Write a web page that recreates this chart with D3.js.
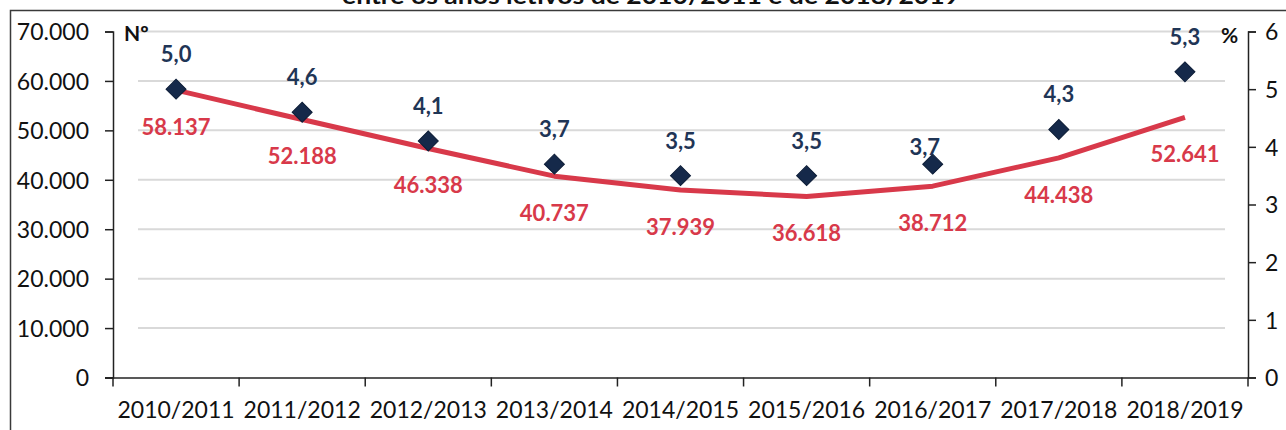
<!DOCTYPE html>
<html><head><meta charset="utf-8">
<script src="https://cdn.jsdelivr.net/npm/d3@7"></script>
<style>body{margin:0;background:#fff}svg{display:block}</style>
</head><body>
<svg id="c" width="1286" height="430"></svg>
<script>
const title = "entre os anos letivos de 2010/2011 e de 2018/2019";
const categories = ["2010/2011","2011/2012","2012/2013","2013/2014","2014/2015","2015/2016","2016/2017","2017/2018","2018/2019"];
const counts = [58137, 52188, 46338, 40737, 37939, 36618, 38712, 44438, 52641];
const percents = [5.0, 4.6, 4.1, 3.7, 3.5, 3.5, 3.7, 4.3, 5.3];
const leftTicks = [0, 10000, 20000, 30000, 40000, 50000, 60000, 70000];
const rightTicks = [0, 1, 2, 3, 4, 5, 6];
const leftUnit = "Nº", rightUnit = "%";

const svg = d3.select("#c");
const FONT = "Lato, 'Open Sans', sans-serif";
const RED = "#d8394a", NAVY = "#15294a";
const x0 = 113, x1 = 1248, yTop = 31.5, yBot = 377.5;

const x = d3.scaleBand().domain(categories).range([x0, x1]);
const yL = d3.scaleLinear().domain([0, 70000]).range([yBot, yTop]);
const yR = d3.scaleLinear().domain([0, 6]).range([yBot, yTop]);
const fmtN = d3.formatLocale({decimal: ",", thousands: ".", grouping: [3], currency: ["", ""]}).format(",d");
const fmtP = v => d3.format(".1f")(v).replace(".", ",");

// frame
svg.append("path").attr("d", "M10.5,430 V10.5 H1286").attr("fill", "none").attr("stroke", "#3a3a3a").attr("stroke-width", 1.5);

// title (clipped at top)
svg.append("text").attr("x", 651).attr("y", 4).attr("text-anchor", "middle")
  .attr("font-family", FONT).attr("font-weight", 700).attr("font-size", 22)
  .attr("textLength", 618).attr("lengthAdjust", "spacingAndGlyphs")
  .attr("fill", "#111").text(title);

// gridlines
svg.append("g").selectAll("line").data(leftTicks.filter(d => d > 0)).join("line")
  .attr("x1", 138).attr("x2", 1225).attr("y1", d => yL(d)).attr("y2", d => yL(d))
  .attr("stroke", "#d9d9d9").attr("stroke-width", 2);

// left axis
const gL = svg.append("g").attr("transform", `translate(${x0},0)`)
  .call(d3.axisLeft(yL).tickValues(leftTicks).tickFormat(d => d === 0 ? "0" : fmtN(d)).tickSize(8).tickPadding(16));
// right axis
const gR = svg.append("g").attr("transform", `translate(${x1},0)`)
  .call(d3.axisRight(yR).tickValues(rightTicks).tickFormat(d3.format("d")).tickSize(8).tickPadding(9));
// x axis
const gX = svg.append("g").attr("transform", `translate(0,${yBot})`)
  .call(d3.axisBottom(x).tickSize(0).tickPadding(24));
gX.append("g").selectAll("line").data(d3.range(categories.length + 1)).join("line")
  .attr("x1", i => x0 + i * x.step()).attr("x2", i => x0 + i * x.step())
  .attr("y1", 0).attr("y2", 9).attr("stroke", "#222").attr("stroke-width", 1.5);
gX.select(".domain").attr("d", `M${x0 - 8},0.5H${x1}`);

[gL, gR, gX].forEach(g => {
  g.selectAll(".domain").attr("stroke", "#222").attr("stroke-width", 1.5);
  g.selectAll(".tick line").attr("stroke", "#222").attr("stroke-width", 1.5);
  g.selectAll("text").attr("font-family", FONT).attr("font-size", 23).attr("fill", "#111");
});
gL.selectAll(".tick text").attr("dy", "0.36em");
gR.selectAll(".tick text").attr("dy", "0.36em");
gX.selectAll(".tick text").attr("dy", "0.71em");

// unit labels
svg.append("text").attr("x", 124).attr("y", 41).attr("font-family", FONT).attr("font-weight", 700)
  .attr("font-size", 21).attr("fill", "#111").text(leftUnit);
svg.append("text").attr("x", 1221).attr("y", 43).attr("font-family", FONT).attr("font-weight", 700)
  .attr("font-size", 21).attr("fill", "#111").text(rightUnit);

const cx = d => x(d) + x.bandwidth() / 2;

// red line
svg.append("path").datum(categories.map((c, i) => [cx(c), yL(counts[i])]))
  .attr("d", d3.line()).attr("fill", "none").attr("stroke", RED).attr("stroke-width", 5)
  .attr("stroke-linejoin", "round");

// diamonds
svg.append("g").selectAll("path").data(categories).join("path")
  .attr("d", d3.symbol(d3.symbolSquare, 200)())
  .attr("transform", (c, i) => `translate(${cx(c)},${yR(percents[i])}) rotate(45)`)
  .attr("fill", NAVY).attr("stroke", "#0c1c36").attr("stroke-width", 1);

// count labels
svg.append("g").selectAll("text").data(categories).join("text")
  .attr("x", cx).attr("y", (c, i) => yL(counts[i]) + 37).attr("dy", "0.36em")
  .attr("text-anchor", "middle").attr("font-family", FONT).attr("font-weight", 700)
  .attr("font-size", 22).attr("fill", RED).text((c, i) => fmtN(counts[i]));

// percent labels
svg.append("g").selectAll("text").data(categories).join("text")
  .attr("x", (c, i) => cx(c) - (i === 6 ? 8 : 0))
  .attr("y", (c, i) => yR(percents[i]) - (i === 6 ? 17 : 35)).attr("dy", "0.36em")
  .attr("text-anchor", "middle").attr("font-family", FONT).attr("font-weight", 700)
  .attr("font-size", 22).attr("fill", "#1f3556").text((c, i) => fmtP(percents[i]));
</script>
</body></html>
